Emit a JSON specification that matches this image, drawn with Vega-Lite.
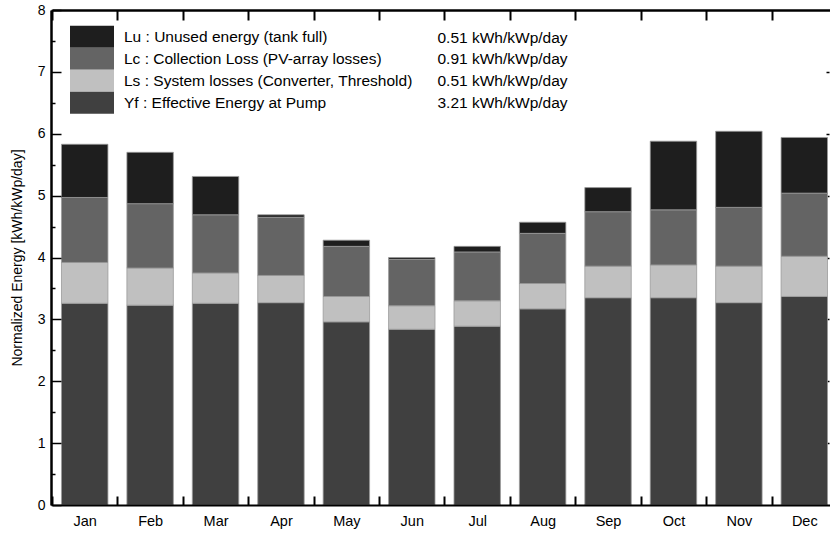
{
  "$schema": "https://vega.github.io/schema/vega-lite/v6.json",
  "width": 778,
  "height": 495,
  "autosize": {"type": "none"},
  "padding": {"left": 51, "top": 10, "right": 1, "bottom": 28},
  "background": "white",
  "config": {
    "font": "Liberation Sans",
    "view": {"stroke": null},
    "axis": {"domainColor": "#000", "tickColor": "#000", "labelColor": "#000", "titleColor": "#000", "grid": false, "ticks": true, "zindex": 1}
  },
  "data": {
    "values": [
      {"month": "Jan", "component": "Yf : Effective Energy at Pump", "code": "Yf", "ord": 1, "value": 3.26},
      {"month": "Jan", "component": "Ls : System losses (Converter, Threshold)", "code": "Ls", "ord": 2, "value": 0.66},
      {"month": "Jan", "component": "Lc : Collection Loss (PV-array losses)", "code": "Lc", "ord": 3, "value": 1.05},
      {"month": "Jan", "component": "Lu : Unused energy (tank full)", "code": "Lu", "ord": 4, "value": 0.86},
      {"month": "Feb", "component": "Yf : Effective Energy at Pump", "code": "Yf", "ord": 1, "value": 3.23},
      {"month": "Feb", "component": "Ls : System losses (Converter, Threshold)", "code": "Ls", "ord": 2, "value": 0.60},
      {"month": "Feb", "component": "Lc : Collection Loss (PV-array losses)", "code": "Lc", "ord": 3, "value": 1.04},
      {"month": "Feb", "component": "Lu : Unused energy (tank full)", "code": "Lu", "ord": 4, "value": 0.83},
      {"month": "Mar", "component": "Yf : Effective Energy at Pump", "code": "Yf", "ord": 1, "value": 3.26},
      {"month": "Mar", "component": "Ls : System losses (Converter, Threshold)", "code": "Ls", "ord": 2, "value": 0.49},
      {"month": "Mar", "component": "Lc : Collection Loss (PV-array losses)", "code": "Lc", "ord": 3, "value": 0.94},
      {"month": "Mar", "component": "Lu : Unused energy (tank full)", "code": "Lu", "ord": 4, "value": 0.62},
      {"month": "Apr", "component": "Yf : Effective Energy at Pump", "code": "Yf", "ord": 1, "value": 3.27},
      {"month": "Apr", "component": "Ls : System losses (Converter, Threshold)", "code": "Ls", "ord": 2, "value": 0.44},
      {"month": "Apr", "component": "Lc : Collection Loss (PV-array losses)", "code": "Lc", "ord": 3, "value": 0.94},
      {"month": "Apr", "component": "Lu : Unused energy (tank full)", "code": "Lu", "ord": 4, "value": 0.04},
      {"month": "May", "component": "Yf : Effective Energy at Pump", "code": "Yf", "ord": 1, "value": 2.96},
      {"month": "May", "component": "Ls : System losses (Converter, Threshold)", "code": "Ls", "ord": 2, "value": 0.41},
      {"month": "May", "component": "Lc : Collection Loss (PV-array losses)", "code": "Lc", "ord": 3, "value": 0.81},
      {"month": "May", "component": "Lu : Unused energy (tank full)", "code": "Lu", "ord": 4, "value": 0.10},
      {"month": "Jun", "component": "Yf : Effective Energy at Pump", "code": "Yf", "ord": 1, "value": 2.84},
      {"month": "Jun", "component": "Ls : System losses (Converter, Threshold)", "code": "Ls", "ord": 2, "value": 0.38},
      {"month": "Jun", "component": "Lc : Collection Loss (PV-array losses)", "code": "Lc", "ord": 3, "value": 0.75},
      {"month": "Jun", "component": "Lu : Unused energy (tank full)", "code": "Lu", "ord": 4, "value": 0.03},
      {"month": "Jul", "component": "Yf : Effective Energy at Pump", "code": "Yf", "ord": 1, "value": 2.89},
      {"month": "Jul", "component": "Ls : System losses (Converter, Threshold)", "code": "Ls", "ord": 2, "value": 0.41},
      {"month": "Jul", "component": "Lc : Collection Loss (PV-array losses)", "code": "Lc", "ord": 3, "value": 0.79},
      {"month": "Jul", "component": "Lu : Unused energy (tank full)", "code": "Lu", "ord": 4, "value": 0.09},
      {"month": "Aug", "component": "Yf : Effective Energy at Pump", "code": "Yf", "ord": 1, "value": 3.17},
      {"month": "Aug", "component": "Ls : System losses (Converter, Threshold)", "code": "Ls", "ord": 2, "value": 0.41},
      {"month": "Aug", "component": "Lc : Collection Loss (PV-array losses)", "code": "Lc", "ord": 3, "value": 0.81},
      {"month": "Aug", "component": "Lu : Unused energy (tank full)", "code": "Lu", "ord": 4, "value": 0.18},
      {"month": "Sep", "component": "Yf : Effective Energy at Pump", "code": "Yf", "ord": 1, "value": 3.35},
      {"month": "Sep", "component": "Ls : System losses (Converter, Threshold)", "code": "Ls", "ord": 2, "value": 0.51},
      {"month": "Sep", "component": "Lc : Collection Loss (PV-array losses)", "code": "Lc", "ord": 3, "value": 0.88},
      {"month": "Sep", "component": "Lu : Unused energy (tank full)", "code": "Lu", "ord": 4, "value": 0.39},
      {"month": "Oct", "component": "Yf : Effective Energy at Pump", "code": "Yf", "ord": 1, "value": 3.35},
      {"month": "Oct", "component": "Ls : System losses (Converter, Threshold)", "code": "Ls", "ord": 2, "value": 0.53},
      {"month": "Oct", "component": "Lc : Collection Loss (PV-array losses)", "code": "Lc", "ord": 3, "value": 0.89},
      {"month": "Oct", "component": "Lu : Unused energy (tank full)", "code": "Lu", "ord": 4, "value": 1.11},
      {"month": "Nov", "component": "Yf : Effective Energy at Pump", "code": "Yf", "ord": 1, "value": 3.27},
      {"month": "Nov", "component": "Ls : System losses (Converter, Threshold)", "code": "Ls", "ord": 2, "value": 0.59},
      {"month": "Nov", "component": "Lc : Collection Loss (PV-array losses)", "code": "Lc", "ord": 3, "value": 0.95},
      {"month": "Nov", "component": "Lu : Unused energy (tank full)", "code": "Lu", "ord": 4, "value": 1.23},
      {"month": "Dec", "component": "Yf : Effective Energy at Pump", "code": "Yf", "ord": 1, "value": 3.37},
      {"month": "Dec", "component": "Ls : System losses (Converter, Threshold)", "code": "Ls", "ord": 2, "value": 0.65},
      {"month": "Dec", "component": "Lc : Collection Loss (PV-array losses)", "code": "Lc", "ord": 3, "value": 1.02},
      {"month": "Dec", "component": "Lu : Unused energy (tank full)", "code": "Lu", "ord": 4, "value": 0.90}
    ]
  },
  "resolve": {"axis": {"x": "independent", "y": "independent"}},
  "layer": [
    {
      "mark": {"type": "bar", "stroke": "#9a9a9a", "strokeWidth": 0.8},
      "encoding": {
        "x": {
          "field": "month", "type": "nominal", "sort": null,
          "scale": {"range": [1, 786], "paddingInner": 0.29, "paddingOuter": 0.145},
          "axis": {"orient": "bottom", "title": null, "labelAngle": 0, "bandPosition": 0, "tickOffset": -9.5, "labelOffset": 9.5, "ticks": true, "tickSize": -9, "tickWidth": 2, "domainWidth": 2, "labelFontSize": 14.5, "labelPadding": 18, "zindex": 1}
        },
        "y": {
          "field": "value", "type": "quantitative", "stack": "zero", "aggregate": "sum",
          "scale": {"domain": [0, 8], "nice": false},
          "axis": {
            "orient": "left", "title": "Normalized Energy [kWh/kWp/day]", "titleFontSize": 14, "titleFontWeight": "normal",
            "values": [0, 0.5, 1, 1.5, 2, 2.5, 3, 3.5, 4, 4.5, 5, 5.5, 6, 6.5, 7, 7.5, 8],
            "format": ".0f",
            "labelExpr": "datum.value % 1 === 0 ? datum.label : ''",
            "ticks": true,
            "tickSize": {"condition": {"test": "datum.value % 1 === 0", "value": -10}, "value": -4},
            "tickWidth": 1.5, "domainWidth": 2.5, "labelFontSize": 14, "labelPadding": 16, "titlePadding": 13, "zindex": 1
          }
        },
        "color": {
          "field": "component", "type": "nominal",
          "scale": {
            "domain": ["Lu : Unused energy (tank full)", "Lc : Collection Loss (PV-array losses)", "Ls : System losses (Converter, Threshold)", "Yf : Effective Energy at Pump"],
            "range": ["#1e1e1e", "#646464", "#c0c0c0", "#404040"]
          },
          "legend": {
            "orient": "none", "legendX": 30, "legendY": 15.7, "title": null, "padding": 0,
            "symbolType": "M-2,-1H2V1H-2Z", "symbolSize": 484, "symbolStrokeWidth": 0, "symbolOpacity": 1,
            "labelFontSize": 15.5, "labelOffset": 21, "rowPadding": 0, "labelLimit": 400
          }
        },
        "opacity": {
          "field": "code", "type": "nominal",
          "scale": {"type": "ordinal", "domain": ["Lu", "Lc", "Ls", "Yf"], "range": [1, 1, 1, 1]},
          "legend": {
            "orient": "none", "legendX": 371, "legendY": 20, "title": null, "padding": 0,
            "symbolSize": 0, "symbolOpacity": 0, "symbolStrokeWidth": 0,
            "labelFontSize": 15.5, "labelOffset": 0, "rowPadding": 4.6,
            "labelExpr": "datum.value === 'Lc' ? '0.91 kWh/kWp/day' : datum.value === 'Yf' ? '3.21 kWh/kWp/day' : '0.51 kWh/kWp/day'"
          }
        },
        "order": {"field": "ord", "type": "quantitative"}
      }
    },
    {
      "mark": {"type": "bar", "opacity": 0},
      "encoding": {
        "x": {
          "field": "month", "type": "nominal", "sort": null,
          "axis": {"orient": "top", "title": null, "labels": false, "bandPosition": 0, "tickOffset": -9.5, "ticks": true, "tickSize": -10, "tickWidth": 2, "domainWidth": 2.5, "zindex": 1}
        },
        "y": {
          "field": "value", "type": "quantitative",
          "axis": {
            "orient": "right", "title": null, "labels": false, "domain": false, "ticks": true,
            "values": [1, 2, 3, 4, 5, 6, 7], "tickSize": -3, "tickWidth": 1.5
          }
        }
      }
    }
  ]
}
